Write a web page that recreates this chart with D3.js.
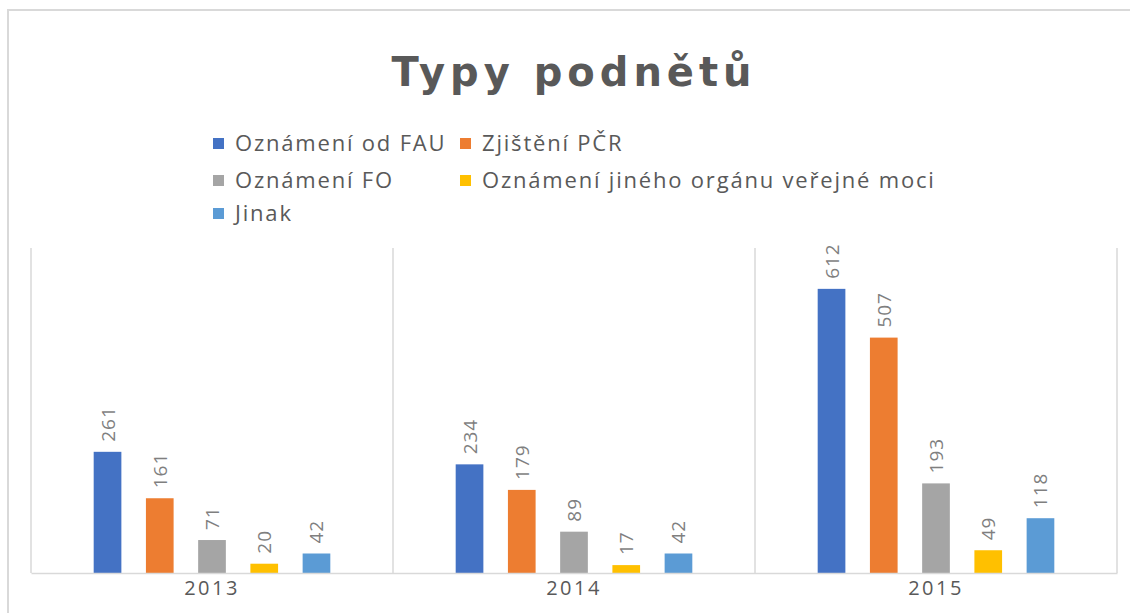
<!DOCTYPE html>
<html>
<head>
<meta charset="utf-8">
<script src="https://cdn.jsdelivr.net/npm/d3@7"></script>
<style>
  body { margin: 0; background: #fff; }
  svg { display: block; }
</style>
</head>
<body>
<div id="chart-container"></div>
<script>
const years = ["2013", "2014", "2015"];
const seriesNames = ["Oznámení od FAU", "Zjištění PČR", "Oznámení FO", "Oznámení jiného orgánu veřejné moci", "Jinak"];
const seriesColors = ["#4472C4", "#ED7D31", "#A5A5A5", "#FFC000", "#5B9BD5"];
const fauValues = [261, 234, 612];
const pcrValues = [161, 179, 507];
const foValues = [71, 89, 193];
const organValues = [20, 17, 49];
const jinakValues = [42, 42, 118];
const yMax = 700;

const seriesValues = [fauValues, pcrValues, foValues, organValues, jinakValues];
const rows = [];
years.forEach(function(year, i) {
    seriesNames.forEach(function(name, j) {
        rows.push({ year: year, series: name, value: seriesValues[j][i] });
    });
});

const svgWidth = 1130;
const svgHeight = 613;
const plot = { left: 31, right: 1117, top: 248, bottom: 573 };

const svg = d3.select("#chart-container")
    .append("svg")
    .attr("width", svgWidth)
    .attr("height", svgHeight)
    .style("font-family", "'Open Sans', sans-serif");

// outer frame
svg.append("rect")
    .attr("x", 8)
    .attr("y", 10)
    .attr("width", 1150)
    .attr("height", 650)
    .attr("fill", "#fff")
    .attr("stroke", "#d9d9d9")
    .attr("stroke-width", 2);

svg.append("text")
    .attr("x", 574)
    .attr("y", 86)
    .attr("text-anchor", "middle")
    .attr("font-family", "'DejaVu Sans', sans-serif")
    .attr("font-size", "40px")
    .attr("font-weight", "bold")
    .attr("letter-spacing", "5px")
    .attr("fill", "#595959")
    .text("Typy podnětů");

const x0 = d3.scaleBand()
    .domain(years)
    .range([plot.left, plot.right])
    .padding(0);

const x1 = d3.scaleBand()
    .domain(seriesNames)
    .range([0, x0.bandwidth()])
    .paddingInner(0.47)
    .paddingOuter(1.2);

const y = d3.scaleLinear()
    .domain([0, yMax])
    .range([plot.bottom, plot.top]);

const color = d3.scaleOrdinal().domain(seriesNames).range(seriesColors);

// category separators
const seps = years.map(d => x0(d)).concat([plot.right]);
svg.selectAll(".sep")
    .data(seps)
    .enter()
    .append("line")
    .attr("class", "sep")
    .attr("x1", d => d)
    .attr("x2", d => d)
    .attr("y1", plot.top)
    .attr("y2", plot.bottom)
    .attr("stroke", "#d9d9d9")
    .attr("stroke-width", 1.5);

svg.selectAll(".bar")
    .data(rows)
    .enter()
    .append("rect")
    .attr("class", "bar")
    .attr("x", d => x0(d.year) + x1(d.series))
    .attr("y", d => y(d.value))
    .attr("width", x1.bandwidth())
    .attr("height", d => y(0) - y(d.value))
    .attr("fill", d => color(d.series));

// x axis
const xAxis = svg.append("g")
    .attr("transform", `translate(0,${plot.bottom})`)
    .call(d3.axisBottom(x0).tickSize(0).tickPadding(8));
xAxis.select(".domain").attr("stroke", "#d9d9d9").attr("stroke-width", 1.5);
xAxis.selectAll("text")
    .attr("font-family", "'Open Sans', sans-serif")
    .attr("font-size", "20px")
    .attr("letter-spacing", "2.5px")
    .attr("fill", "#595959");

// value labels
svg.selectAll(".label")
    .data(rows)
    .enter()
    .append("text")
    .attr("class", "label")
    .attr("transform", d => `translate(${x0(d.year) + x1(d.series) + x1.bandwidth() / 2 + 7},${y(d.value) - 10}) rotate(-90)`)
    .attr("text-anchor", "start")
    .attr("font-size", "19px")
    .attr("letter-spacing", "1px")
    .attr("fill", "#7f7f7f")
    .text(d => d.value);

// legend
const legendPos = [
    { x: 213, y: 151 }, { x: 460, y: 151 },
    { x: 213, y: 188 }, { x: 460, y: 188 },
    { x: 213, y: 221 }
];
const legend = svg.selectAll(".legend")
    .data(seriesNames)
    .enter()
    .append("g")
    .attr("class", "legend")
    .attr("transform", (d, i) => `translate(${legendPos[i].x},${legendPos[i].y})`);

legend.append("rect")
    .attr("x", 0)
    .attr("y", -13)
    .attr("width", 11)
    .attr("height", 11)
    .attr("fill", d => color(d));

legend.append("text")
    .attr("x", 22)
    .attr("y", 0)
    .attr("font-size", "22px")
    .attr("letter-spacing", "1.8px")
    .attr("fill", "#595959")
    .text(d => d);
</script>
</body>
</html>
